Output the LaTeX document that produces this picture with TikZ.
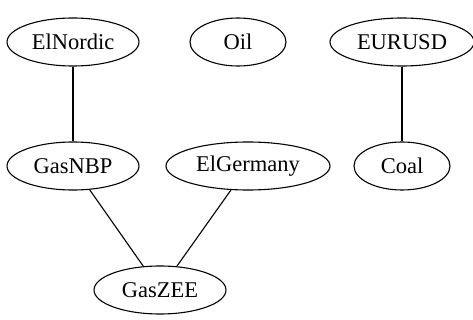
\documentclass[tikz,border=0pt]{standalone}
\usepackage{fontspec}
\setmainfont{Liberation Serif}
\usetikzlibrary{shapes.geometric}
\begin{document}
\begin{tikzpicture}[x=1pt,y=-1pt,
  nd/.style={draw, ellipse, line width=1.1pt, inner sep=0pt, minimum height=48pt, font=\fontsize{22.5}{26}\selectfont},
  edge/.style={line width=1.1pt}]
\useasboundingbox (0,0) rectangle (473,320);
\node[nd, minimum width=132pt] (elnordic) at (73,42) {ElNordic};
\node[nd, minimum width=96pt] (oil) at (238,42) {Oil};
\node[nd, minimum width=144pt] (eurusd) at (402,42) {EURUSD};
\node[nd, minimum width=132pt] (gasnbp) at (73,166) {GasNBP};
\node[nd, minimum width=164pt] (elgermany) at (248,166) {ElGermany};
\node[nd, minimum width=96pt] (coal) at (402,166) {Coal};
\node[nd, minimum width=132pt] (gaszee) at (160,290) {GasZEE};
\draw[edge] (elnordic) -- (gasnbp);
\draw[edge] (eurusd) -- (coal);
\draw[edge] (gasnbp) -- (gaszee);
\draw[edge] (elgermany) -- (gaszee);
\end{tikzpicture}
\end{document}
